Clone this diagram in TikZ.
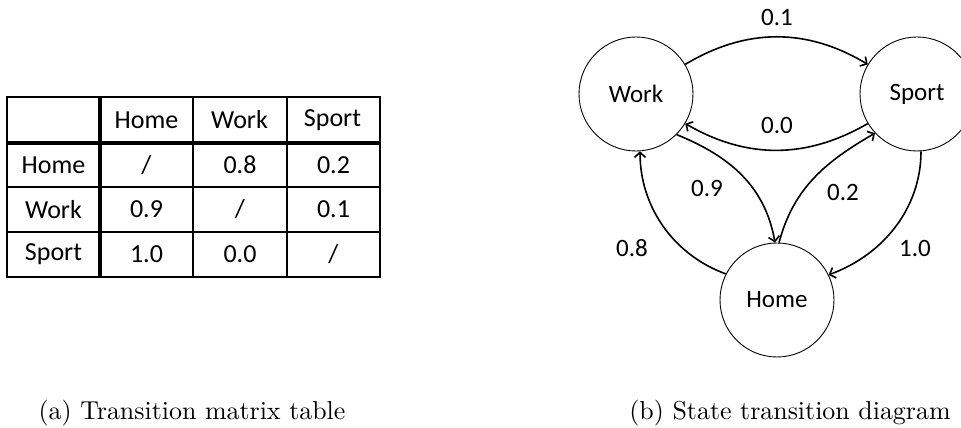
\documentclass[tikz,border=0pt]{standalone}
\usepackage{fontspec}
\newfontfamily\calib{Carlito}
\newfontfamily\capfont{lmroman10-regular}[Extension=.otf]
\usetikzlibrary{arrows.meta,positioning}

\begin{document}
\begin{tikzpicture}[x=1pt, y=1pt,
    state/.style={circle, draw, line width=0.9pt, minimum size=114pt, inner sep=0pt, font=\calib\fontsize{25}{30}\selectfont},
    trans/.style={-{Straight Barb[length=5pt, width=11pt]}, line width=1.6pt},
    prob/.style={font=\calib\fontsize{25}{30}\selectfont},
    cell/.style={font=\calib\fontsize{26}{30}\selectfont},
    thin grid/.style={line width=1.5pt},
    heavy/.style={line width=4pt},
    capt/.style={anchor=base, font=\capfont\fontsize{25.9}{30}\selectfont}
]
    \useasboundingbox (0,0) rectangle (961,428);

    % Transition matrix table
    \draw[thin grid] (7,151) rectangle (380,331);
    \draw[thin grid] (193,151) -- (193,331) (287,151) -- (287,331);
    \draw[thin grid] (7,241) -- (380,241) (7,196) -- (380,196);
    \draw[heavy] (7,285) -- (380,285);
    \draw[heavy] (100,151) -- (100,331);

    \foreach \name [count=\i] in {Home,Work,Sport} {
        \node[cell] (col\i) at (53.5+93*\i,308) {\name};
        \node[cell] (row\i) at (53.5,308-44.8*\i) {\name};
    }
    \node[cell] (c11) at (146.5,263) {/};
    \node[cell] (c12) at (240,263) {0.8};
    \node[cell] (c13) at (333.5,263) {0.2};
    \node[cell] (c21) at (146.5,218.5) {0.9};
    \node[cell] (c22) at (240,218.5) {/};
    \node[cell] (c23) at (333.5,218.5) {0.1};
    \node[cell] (c31) at (146.5,173.5) {1.0};
    \node[cell] (c32) at (240,173.5) {0.0};
    \node[cell] (c33) at (333.5,173.5) {/};

    % State transition diagram
    \node[state] (work) at (636,334) {Work};
    \node[state] (sport) at (917,334) {Sport};
    \node[state] (home) at (777,128) {Home};

    \draw[trans] (work.31) to[out=31, in=149] (sport.149);
    \draw[trans] (sport.211) to[out=210, in=330] (work.329);
    \draw[trans] (work.-45) to[out=-22, in=100] (home.92);
    \draw[trans] (home.88) to[out=75, in=210] (sport.223);
    \draw[trans] (home.153) to[out=160, in=-90, looseness=0.95] (work.-86);
    \draw[trans] (sport.-86) to[out=-90, in=20, looseness=0.95] (home.26);

    \node[prob] (p01) at (777,411) {0.1};
    \node[prob] (p00) at (777,303) {0.0};
    \node[prob] (p09) at (707,240) {0.9};
    \node[prob] (p02) at (843,236) {0.2};
    \node[prob] (p08) at (632,180) {0.8};
    \node[prob] (p10) at (915,180) {1.0};

    % Captions
    \node[capt] (capa) at (192,8) {(a) Transition matrix table};
    \node[capt] (capb) at (790,8) {(b) State transition diagram};
\end{tikzpicture}
\end{document}
